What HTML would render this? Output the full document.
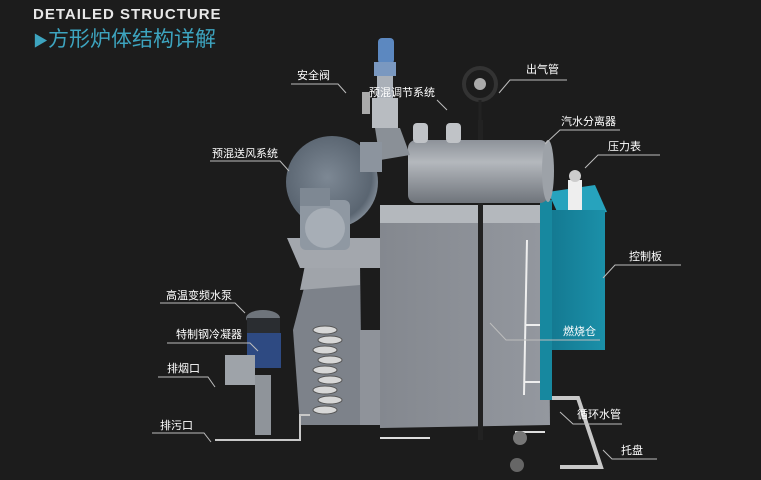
<!DOCTYPE html>
<html><head><meta charset="utf-8"><style>
body{margin:0;background:#1c1c1c;width:761px;height:480px;overflow:hidden;}
svg{display:block}
text{font-family:"Liberation Sans","Noto Sans CJK SC",sans-serif;}
</style></head><body>
<svg width="761" height="480" viewBox="0 0 761 480" xmlns="http://www.w3.org/2000/svg">
<defs>
<linearGradient id="drum" x1="0" y1="0" x2="0" y2="1"><stop offset="0" stop-color="#8d9299"/><stop offset="0.35" stop-color="#b4b8bd"/><stop offset="1" stop-color="#6f747b"/></linearGradient>
<linearGradient id="body" x1="0" y1="0" x2="1" y2="0"><stop offset="0" stop-color="#84888f"/><stop offset="1" stop-color="#94989f"/></linearGradient>
<linearGradient id="teal" x1="0" y1="0" x2="1" y2="0"><stop offset="0" stop-color="#137890"/><stop offset="1" stop-color="#1b90a9"/></linearGradient>
<radialGradient id="fan" cx="0.45" cy="0.45" r="0.6"><stop offset="0" stop-color="#7d8894"/><stop offset="0.8" stop-color="#5a6571"/><stop offset="1" stop-color="#8a949f"/></radialGradient>
</defs>
<text x="33" y="19" fill="#e8e8e8" font-size="15" font-weight="bold" letter-spacing="1">DETAILED STRUCTURE</text>
<text x="33" y="46" fill="#3da4bf" font-size="21"><tspan font-size="15">▶</tspan>方形炉体结构详解</text>

<!-- tray -->
<path d="M549 398 L578 398 L601 467 L560 467" fill="none" stroke="#c8c8c8" stroke-width="4"/>
<!-- left condenser block -->
<path d="M310 265 L360 262 L362 425 L300 425 L293 330 Z" fill="#7d828a"/>
<path d="M305 265 L360 262 L360 285 L300 290 Z" fill="#a0a4aa"/>
<rect x="360" y="330" width="20" height="95" fill="#8f939a"/>
<g fill="#d8d8d8" stroke="#555" stroke-width="1">
<ellipse cx="325" cy="330" rx="12" ry="4"/><ellipse cx="330" cy="340" rx="12" ry="4"/><ellipse cx="325" cy="350" rx="12" ry="4"/>
<ellipse cx="330" cy="360" rx="12" ry="4"/><ellipse cx="325" cy="370" rx="12" ry="4"/><ellipse cx="330" cy="380" rx="12" ry="4"/>
<ellipse cx="325" cy="390" rx="12" ry="4"/><ellipse cx="330" cy="400" rx="12" ry="4"/><ellipse cx="325" cy="410" rx="12" ry="4"/>
</g>
<!-- platform -->
<path d="M287 238 L380 238 L380 268 L300 268 Z" fill="#a3a7ad"/>
<!-- main body -->
<path d="M380 205 L548 205 L550 425 L380 428 Z" fill="url(#body)"/>
<rect x="380" y="205" width="168" height="18" fill="#b4b8bd"/>
<rect x="478" y="120" width="5" height="320" fill="#222"/>
<!-- ladder pipes -->
<g stroke="#eee" stroke-width="2" fill="none">
<path d="M527 240 L524 395"/><path d="M546 318 L545 385"/><path d="M525 325 L546 325"/><path d="M524 382 L545 382"/>
</g>
<!-- control box -->
<path d="M548 192 L595 185 L607 212 L560 218 Z" fill="#27a3bd"/>
<rect x="548" y="210" width="57" height="140" fill="url(#teal)"/>
<rect x="540" y="200" width="12" height="200" fill="#17889f"/>
<rect x="568" y="180" width="14" height="30" fill="#eee"/>
<circle cx="575" cy="176" r="6" fill="#ccc"/>
<!-- drum -->
<rect x="408" y="140" width="140" height="63" rx="8" fill="url(#drum)"/>
<ellipse cx="548" cy="171" rx="6" ry="31" fill="#9da2a8"/>
<rect x="413" y="123" width="15" height="20" rx="4" fill="#c0c3c7"/>
<rect x="446" y="123" width="15" height="20" rx="4" fill="#c0c3c7"/>
<!-- handwheel -->
<circle cx="480" cy="84" r="16" fill="none" stroke="#333" stroke-width="4"/>
<circle cx="480" cy="84" r="6" fill="#aaa"/>
<line x1="480" y1="100" x2="480" y2="125" stroke="#222" stroke-width="3"/>
<!-- safety valve -->
<rect x="378" y="38" width="16" height="26" rx="4" fill="#5c88c0"/>
<rect x="374" y="62" width="22" height="14" fill="#7a98c0"/>
<rect x="377" y="76" width="16" height="22" fill="#aab0b8"/>
<rect x="372" y="98" width="26" height="30" fill="#b8bcc1"/>
<rect x="362" y="92" width="8" height="22" fill="#aaa"/>
<path d="M375 128 L400 128 L410 155 L380 160 Z" fill="#8a9097"/>
<!-- fan -->
<circle cx="332" cy="182" r="46" fill="url(#fan)"/>
<rect x="360" y="142" width="22" height="30" fill="#8c949e"/>
<rect x="300" y="200" width="50" height="50" rx="6" fill="#8f98a2"/>
<ellipse cx="325" cy="228" rx="20" ry="20" fill="#a7aeb6"/>
<rect x="300" y="188" width="30" height="18" fill="#7e8893"/>
<!-- pump -->
<ellipse cx="263" cy="318" rx="17" ry="8" fill="#6e747b"/>
<rect x="247" y="318" width="33" height="15" fill="#2a2d31"/>
<rect x="247" y="333" width="34" height="35" fill="#2e4a82"/>
<rect x="225" y="355" width="30" height="30" fill="#9ea3a9"/>
<rect x="255" y="375" width="16" height="60" fill="#8f949a"/>
<path d="M215 440 L300 440 L300 415 L310 415" fill="none" stroke="#c8c8c8" stroke-width="2"/>
<path d="M380 438 L430 438 M515 432 L545 432" stroke="#ddd" stroke-width="2"/>
<circle cx="520" cy="438" r="7" fill="#777"/><circle cx="517" cy="465" r="7" fill="#666"/>

<!-- labels & leaders -->
<g fill="#ffffff" font-size="11">
<text x="297" y="79">安全阀</text>
<text x="369" y="96">预混调节系统</text>
<text x="526" y="73">出气管</text>
<text x="561" y="125">汽水分离器</text>
<text x="608" y="150">压力表</text>
<text x="212" y="157">预混送风系统</text>
<text x="629" y="260">控制板</text>
<text x="166" y="299">高温变频水泵</text>
<text x="176" y="338">特制钢冷凝器</text>
<text x="563" y="335">燃烧仓</text>
<text x="167" y="372">排烟口</text>
<text x="577" y="418">循环水管</text>
<text x="160" y="429">排污口</text>
<text x="621" y="454">托盘</text>
</g>
<g stroke="#bdbdbd" stroke-width="1" fill="none">
<path d="M291 84 L338 84 L346 93"/>
<path d="M437 100 L447 110"/>
<path d="M567 80 L510 80 L499 93"/>
<path d="M620 130 L560 130 L545 144"/>
<path d="M660 155 L598 155 L585 168"/>
<path d="M210 161 L280 161 L289 171"/>
<path d="M681 265 L615 265 L603 278"/>
<path d="M160 303 L235 303 L245 313"/>
<path d="M167 343 L250 343 L258 351"/>
<path d="M600 340 L506 340 L490 323"/>
<path d="M158 377 L208 377 L215 387"/>
<path d="M622 424 L573 424 L560 412"/>
<path d="M152 433 L204 433 L211 442"/>
<path d="M657 459 L612 459 L603 450"/>
</g>
</svg>
</body></html>
